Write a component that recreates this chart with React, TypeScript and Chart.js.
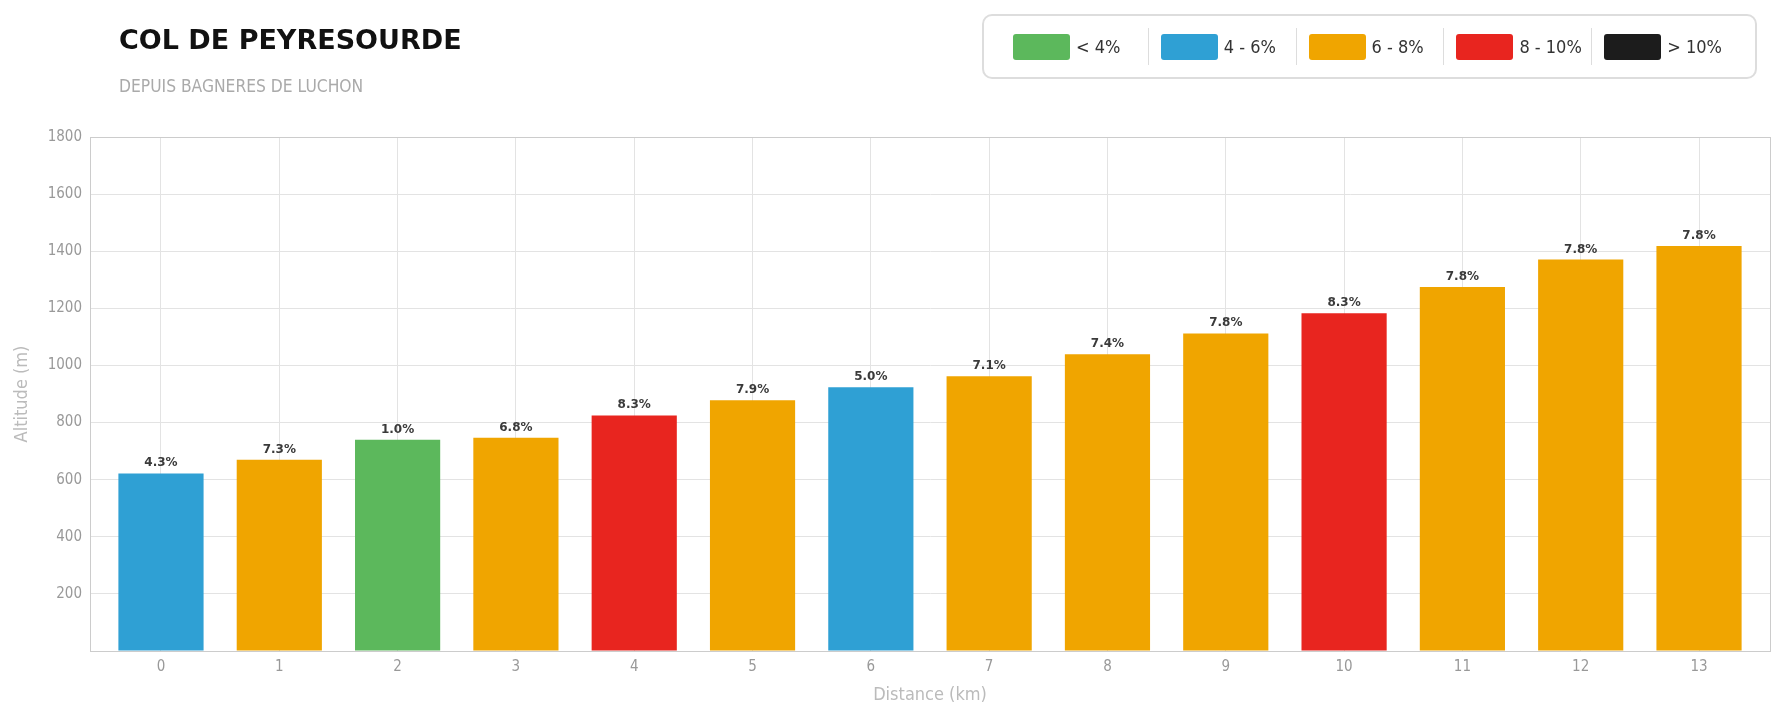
import { useEffect, useRef } from "react"
import { Chart, registerables } from "chart.js"

Chart.register(...registerables)

// km markers along the climb
const distances = [0, 1, 2, 3, 4, 5, 6, 7, 8, 9, 10, 11, 12, 13]
// altitude at each km (m)
const altitudes = [622, 670, 740, 747, 825, 878, 924, 962, 1039, 1112, 1183, 1275, 1371, 1418]
// average gradient of each km (%)
const gradients = [4.3, 7.3, 1.0, 6.8, 8.3, 7.9, 5.0, 7.1, 7.4, 7.8, 8.3, 7.8, 7.8, 7.8]

const legendLabels = ["< 4%", "4 - 6%", "6 - 8%", "8 - 10%", "> 10%"]
const legendColors = ["#5cb85c", "#2fa0d4", "#f0a500", "#e8251f", "#1c1c1c"]
const gradientLimits = [4, 6, 8, 10]

const FONT = "'DejaVu Sans', sans-serif"
const NARROW = "'DejaVu Sans Condensed', 'DejaVu Sans', sans-serif"

function colorFor(g: number) {
  const idx = gradientLimits.findIndex((limit) => g < limit)
  return legendColors[idx === -1 ? legendColors.length - 1 : idx]
}

const gradientLabels = {
  id: "gradientLabels",
  afterDatasetsDraw(chart: Chart) {
    const { ctx } = chart
    const meta = chart.getDatasetMeta(0)
    ctx.save()
    ctx.font = `bold 12px ${FONT}`
    ctx.fillStyle = "#3a3a3a"
    ctx.textAlign = "center"
    ctx.textBaseline = "alphabetic"
    meta.data.forEach((bar: any, i: number) => {
      ctx.fillText(gradients[i].toFixed(1) + "%", bar.x, bar.y - 7)
    })
    ctx.restore()
  },
}

const plotBorder = {
  id: "plotBorder",
  beforeDatasetsDraw(chart: Chart) {
    const { ctx, chartArea } = chart
    ctx.save()
    ctx.strokeStyle = "#cccccc"
    ctx.lineWidth = 1
    ctx.strokeRect(
      Math.round(chartArea.left) + 0.5,
      Math.round(chartArea.top) + 0.5,
      Math.round(chartArea.right - chartArea.left),
      Math.round(chartArea.bottom - chartArea.top)
    )
    ctx.restore()
  },
}

export default function App() {
  const chartRef = useRef<HTMLCanvasElement>(null)
  const chartInstance = useRef<Chart | null>(null)

  useEffect(() => {
    document.body.style.margin = "0"
    document.body.style.overflow = "hidden"
    if (!chartRef.current) return

    if (chartInstance.current) {
      chartInstance.current.destroy()
    }

    const ctx = chartRef.current.getContext("2d")
    if (ctx) {
      chartInstance.current = new Chart(ctx, {
        type: "bar",
        data: {
          datasets: [
            {
              label: "Altitude",
              data: distances.map((d, i) => ({ x: d, y: altitudes[i] })),
              backgroundColor: gradients.map(colorFor),
              borderWidth: 0,
              categoryPercentage: 0.8,
              barPercentage: 0.9,
            },
          ],
        },
        options: {
          responsive: false,
          animation: false,
          layout: {
            padding: { top: 137, right: 15, bottom: 0, left: 0 },
          },
          font: { family: NARROW },
          plugins: {
            legend: { display: false },
            tooltip: { enabled: false },
          },
          scales: {
            x: {
              type: "linear",
              min: -0.6,
              max: 13.6,
              offset: false,
              afterFit: (scale: any) => {
                scale.height = 69
              },
              grid: {
                offset: false,
                color: "#e3e3e3",
                drawTicks: false,
              },
              border: { color: "#cccccc" },
              ticks: {
                stepSize: 1,
                includeBounds: false,
                padding: 7,
                color: "#999999",
                font: { family: NARROW, size: 15 },
                autoSkip: false,
                maxRotation: 0,
              },
              title: {
                display: true,
                text: "Distance (km)",
                color: "#bbbbbb",
                font: { family: NARROW, size: 18 },
                padding: { top: 0, bottom: 14 },
              },
            },
            y: {
              min: 0,
              max: 1800,
              afterFit: (scale: any) => {
                scale.width = 90
              },
              grid: {
                color: "#e3e3e3",
                drawTicks: false,
              },
              border: { color: "#cccccc" },
              ticks: {
                stepSize: 200,
                padding: 8,
                color: "#999999",
                font: { family: NARROW, size: 15 },
                callback: (value: any) => (value === 0 ? "" : String(value)),
              },
              title: {
                display: true,
                text: "Altitude (m)",
                color: "#bbbbbb",
                font: { family: NARROW, size: 18 },
                padding: { top: 12, bottom: 0 },
              },
            },
          },
        },
        plugins: [plotBorder, gradientLabels],
      })
    }

    return () => {
      if (chartInstance.current) {
        chartInstance.current.destroy()
        chartInstance.current = null
      }
    }
  }, [])

  return (
    <div style={{ position: "relative", width: 1785, height: 720, fontFamily: FONT, background: "#fff" }}>
      <canvas ref={chartRef} width={1785} height={720} style={{ position: "absolute", left: 0, top: 0 }} />
      <div
        style={{
          position: "absolute",
          left: 119,
          top: 26,
          fontSize: 27,
          lineHeight: 1,
          fontWeight: "bold",
          color: "#111111",
          whiteSpace: "nowrap",
        }}
      >
        COL DE PEYRESOURDE
      </div>
      <div
        style={{
          position: "absolute",
          left: 119,
          top: 78,
          fontFamily: NARROW,
          fontSize: 17.3,
          lineHeight: 1,
          color: "#aaaaaa",
          whiteSpace: "nowrap",
        }}
      >
        DEPUIS BAGNERES DE LUCHON
      </div>
      <div
        style={{
          position: "absolute",
          left: 982,
          top: 14,
          width: 775,
          height: 65,
          boxSizing: "border-box",
          border: "2px solid #dddddd",
          borderRadius: 10,
          padding: "0 16px",
          display: "flex",
          alignItems: "center",
        }}
      >
        {legendLabels.map((label, i) => (
          <div
            key={label}
            style={{
              width: 148,
              height: 37,
              boxSizing: "border-box",
              paddingLeft: i === 0 ? 13 : 12,
              borderLeft: i === 0 ? "none" : "1px solid #dddddd",
              display: "flex",
              alignItems: "center",
            }}
          >
            <span
              style={{
                display: "inline-block",
                width: 57,
                height: 26,
                borderRadius: 3,
                background: legendColors[i],
                marginRight: 6,
              }}
            />
            <span style={{ fontFamily: NARROW, fontSize: 18, color: "#333333", whiteSpace: "nowrap" }}>
              {label}
            </span>
          </div>
        ))}
      </div>
    </div>
  )
}
